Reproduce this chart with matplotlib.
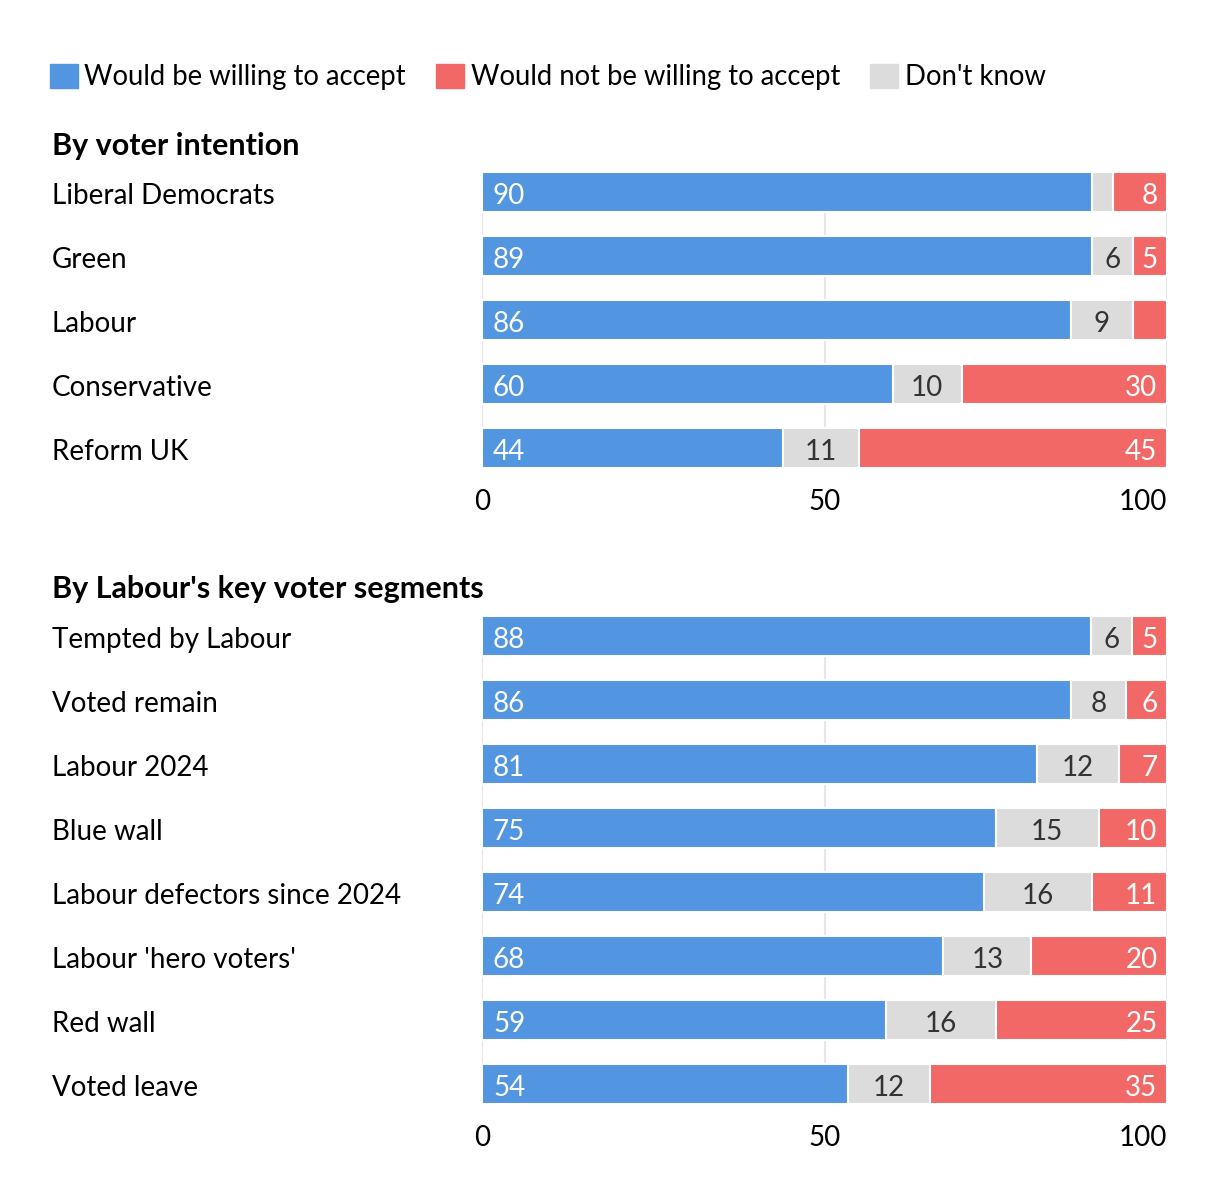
import numpy as np
import matplotlib.pyplot as plt
from matplotlib.patches import Patch
from matplotlib.transforms import blended_transform_factory

plt.rcParams['font.family'] = ['Lato', 'DejaVu Sans']

W, H = 1220, 1204

# By voter intention
vi_groups = ["Liberal Democrats", "Green", "Labour", "Conservative", "Reform UK"]
vi_accept = [90, 89, 86, 60, 44]
vi_dont_know = [3, 6, 9, 10, 11]
vi_not_accept = [8, 5, 5, 30, 45]

# By Labour's key voter segments
seg_groups = ["Tempted by Labour", "Voted remain", "Labour 2024", "Blue wall",
              "Labour defectors since 2024", "Labour 'hero voters'", "Red wall", "Voted leave"]
seg_accept = [88, 86, 81, 75, 74, 68, 59, 54]
seg_dont_know = [6, 8, 12, 15, 16, 13, 16, 12]
seg_not_accept = [5, 6, 7, 10, 11, 20, 25, 35]

legend_labels = ["Would be willing to accept", "Would not be willing to accept", "Don't know"]
ticks = [0, 50, 100]

BLUE = '#5295E0'
RED = '#F26866'
GREY = '#DCDCDC'
FS = 20

fig = plt.figure(figsize=(W / 100, H / 100), dpi=100)


def px_box(x0, y0, x1, y1):
    return [x0 / W, 1 - y1 / H, (x1 - x0) / W, (y1 - y0) / H]


def draw_panel(ax, groups, accept, dont_know, not_accept, hide_dk=(), hide_no=()):
    acc = np.array(accept, float)
    dk = np.array(dont_know, float)
    no = np.array(not_accept, float)
    total = acc + dk + no
    a, d, r = acc / total * 100, dk / total * 100, no / total * 100
    y = np.arange(len(groups))
    bh = 0.625

    ax.barh(y, a, height=bh, color=BLUE, edgecolor='white', linewidth=1.5)
    ax.barh(y, d, left=a, height=bh, color=GREY, edgecolor='white', linewidth=1.5)
    ax.barh(y, r, left=a + d, height=bh, color=RED, edgecolor='white', linewidth=1.5)

    for i, g in enumerate(groups):
        ax.text(1.6, i + 0.03, str(accept[i]), color='white', ha='left', va='center_baseline', fontsize=FS)
        if g not in hide_dk:
            ax.text(a[i] + d[i] / 2, i + 0.03, str(dont_know[i]), color='#333333',
                    ha='center', va='center_baseline', fontsize=FS)
        if g not in hide_no:
            ax.text(98.6, i + 0.03, str(not_accept[i]), color='white', ha='right',
                    va='center_baseline', fontsize=FS)

    ax.set_xlim(0, 100)
    ax.set_ylim(len(groups) - 1 + bh / 2, -bh / 2)
    ax.set_xticks(ticks)
    ax.set_xticklabels([str(t) for t in ticks])
    ax.get_xticklabels()[-1].set_ha('right')
    ax.set_yticks([])
    ax.tick_params(axis='x', length=0, labelsize=FS, pad=15)
    ax.grid(axis='x', color='#E6E6E6', linewidth=1.5)
    ax.set_axisbelow(True)
    for s in ax.spines.values():
        s.set_visible(False)

    trans = blended_transform_factory(fig.transFigure, ax.transData)
    for i, g in enumerate(groups):
        ax.text(52 / W, i + 0.03, g, transform=trans, ha='left', va='center_baseline', fontsize=FS)


ax1 = fig.add_axes(px_box(482, 172, 1167, 468))
draw_panel(ax1, vi_groups, vi_accept, vi_dont_know, vi_not_accept,
           hide_dk=["Liberal Democrats"], hide_no=["Labour"])

ax2 = fig.add_axes(px_box(482, 616, 1167, 1104))
draw_panel(ax2, seg_groups, seg_accept, seg_dont_know, seg_not_accept)

fig.text(52 / W, 1 - 143 / H, "By voter intention", fontweight='bold',
         va='center_baseline', fontsize=22)
fig.text(52 / W, 1 - 587 / H, "By Labour's key voter segments", fontweight='bold',
         va='center_baseline', fontsize=22)

handles = [Patch(color=BLUE), Patch(color=RED), Patch(color=GREY)]
fig.legend(handles, legend_labels, loc='center left', bbox_to_anchor=(50 / W, 1 - 77 / H),
           ncol=3, frameon=False, fontsize=19.8, handlelength=1.0, handleheight=1.0,
           handletextpad=0.25, columnspacing=1.1, borderpad=0, borderaxespad=0)

plt.savefig("out.png", dpi=100)
